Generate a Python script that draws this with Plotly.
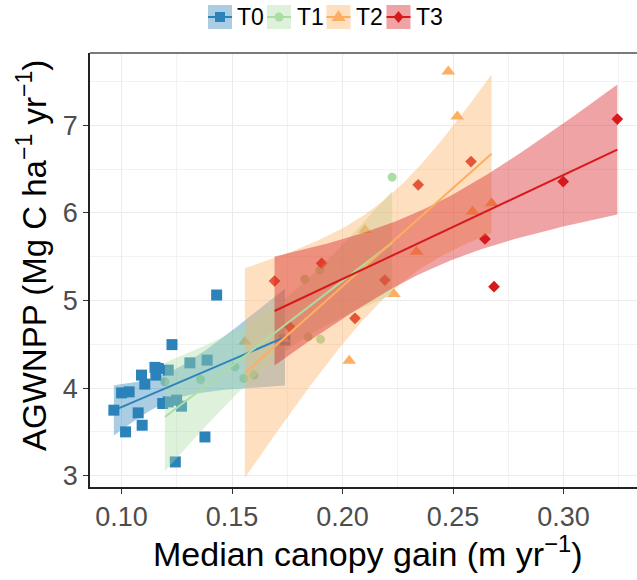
import numpy as np
import plotly.graph_objects as go

# ---------------- data ----------------
groups = ["T0", "T1", "T2", "T3"]

t0_x = [0.1430, 0.1228, 0.1151, 0.1166, 0.1155, 0.1090, 0.1105, 0.1000, 0.1034,
        0.0965, 0.1075, 0.1186, 0.1093, 0.1018, 0.1377, 0.1243, 0.1211, 0.1309,
        0.1387, 0.1211, 0.1249, 0.1271, 0.1739]
t0_y = [5.063, 4.497, 4.237, 4.225, 4.149, 4.149, 4.046, 3.946, 3.958,
        3.749, 3.718, 3.825, 3.577, 3.501, 3.443, 3.158, 4.206, 4.289,
        4.320, 3.843, 3.863, 3.794, 4.549]

t1_x = [0.1196, 0.1357, 0.1513, 0.1553, 0.1599, 0.1844, 0.1900, 0.1829, 0.1897,
        0.2056, 0.2224]
t1_y = [4.072, 4.099, 4.243, 4.111, 4.149, 4.586, 4.557, 5.242, 5.349,
        4.797, 6.408]

t2_x = [0.2478, 0.2519, 0.2674, 0.2588, 0.2335, 0.2232, 0.2101, 0.2030, 0.1558,
        0.1731]
t2_y = [7.615, 7.101, 6.111, 6.015, 5.558, 5.074, 5.806, 4.312, 4.529,
        4.560]

t3_x = [0.3243, 0.2998, 0.2581, 0.2342, 0.2644, 0.2685, 0.2191, 0.1692, 0.1905,
        0.2056, 0.1759]
t3_y = [7.071, 6.358, 6.586, 6.320, 5.703, 5.158, 5.234, 5.223, 5.425,
        4.797, 4.705]

x_ticks = [0.10, 0.15, 0.20, 0.25, 0.30]
x_ticktext = ["0.10", "0.15", "0.20", "0.25", "0.30"]
y_ticks = [3, 4, 5, 6, 7]
y_ticktext = ["3", "4", "5", "6", "7"]

series = {"T0": (t0_x, t0_y), "T1": (t1_x, t1_y), "T2": (t2_x, t2_y), "T3": (t3_x, t3_y)}

# ---------------- style ----------------
colors = {"T0": "#2b83ba", "T1": "#abdda4", "T2": "#fdae61", "T3": "#d7191c"}
fills = {"T0": "rgba(43,131,186,0.4)", "T1": "rgba(171,221,164,0.4)",
         "T2": "rgba(253,174,97,0.4)", "T3": "rgba(215,25,28,0.4)"}
symbols = {"T0": "square", "T1": "circle", "T2": "triangle-up", "T3": "diamond"}
msizes = {"T0": 11, "T1": 9, "T2": 12, "T3": 9}
FONT = "Liberation Sans, Arial, sans-serif"

W, H = 637, 580
L, R, T, B = 90, 0, 53, 93
PW, PH = W - L - R, H - T - B


def px2paper(px, py):
    return (px - L) / PW, (H - B - py) / PH


def t975(df):
    z = 1.959964
    return (z + (z**3 + z) / (4 * df)
            + (5 * z**5 + 16 * z**3 + 3 * z) / (96 * df**2)
            + (3 * z**7 + 19 * z**5 + 17 * z**3 - 15 * z) / (384 * df**3))


def lm_band(x, y, npts=80):
    x = np.asarray(x, float)
    y = np.asarray(y, float)
    n = len(x)
    b1, b0 = np.polyfit(x, y, 1)
    xs = np.linspace(x.min(), x.max(), npts)
    fit = b0 + b1 * xs
    resid = y - (b0 + b1 * x)
    s = np.sqrt(np.sum(resid**2) / (n - 2))
    xm = x.mean()
    sxx = np.sum((x - xm) ** 2)
    se = s * np.sqrt(1.0 / n + (xs - xm) ** 2 / sxx)
    t = t975(n - 2)
    return xs, fit, fit - t * se, fit + t * se


fig = go.Figure()

# points first (they sit under the ribbons)
for g in groups:
    x, y = series[g]
    fig.add_trace(go.Scatter(x=x, y=y, mode="markers", name=g, showlegend=False,
                             marker=dict(symbol=symbols[g], size=msizes[g], color=colors[g],
                                         line=dict(width=0))))

bands = {g: lm_band(*series[g]) for g in groups}

# ribbons
for g in groups:
    xs, fit, lo, hi = bands[g]
    fig.add_trace(go.Scatter(x=np.concatenate([xs, xs[::-1]]),
                             y=np.concatenate([hi, lo[::-1]]),
                             mode="lines", fill="toself", fillcolor=fills[g],
                             line=dict(width=0), hoverinfo="skip", showlegend=False))

# fitted lines
for g in groups:
    xs, fit, lo, hi = bands[g]
    fig.add_trace(go.Scatter(x=xs, y=fit, mode="lines", line=dict(color=colors[g], width=2),
                             showlegend=False, hoverinfo="skip"))

# ---------------- manual legend (ggplot style keys) ----------------
shapes = []
annotations = []
key_cx = [220, 279, 338.5, 398.5]
key_cy = 17
text_x = [235, 295, 354, 414]
tri = "M-7,-4 L7,-4 L0,7 Z"
dia = "M0,6 L5,0 L0,-6 L-5,0 Z"
for i, g in enumerate(groups):
    ax, ay = px2paper(key_cx[i], key_cy)
    base = dict(xref="paper", yref="paper", xsizemode="pixel", ysizemode="pixel",
                xanchor=ax, yanchor=ay, layer="above")
    shapes.append(dict(type="rect", x0=-12, x1=12, y0=-12, y1=12,
                       fillcolor=fills[g], line=dict(width=0), **base))
    shapes.append(dict(type="line", x0=-12, x1=12, y0=0, y1=0,
                       line=dict(color=colors[g], width=2), **base))
    if symbols[g] == "square":
        shapes.append(dict(type="rect", x0=-5, x1=5, y0=-5, y1=5,
                           fillcolor=colors[g], line=dict(width=0), **base))
    elif symbols[g] == "circle":
        shapes.append(dict(type="circle", x0=-4.5, x1=4.5, y0=-4.5, y1=4.5,
                           fillcolor=colors[g], line=dict(width=0), **base))
    elif symbols[g] == "triangle-up":
        shapes.append(dict(type="path", path=tri, fillcolor=colors[g],
                           line=dict(width=0), **base))
    else:
        shapes.append(dict(type="path", path=dia, fillcolor=colors[g],
                           line=dict(width=0), **base))
    tx, ty = px2paper(text_x[i], key_cy)
    annotations.append(dict(text=g, xref="paper", yref="paper", x=tx, y=ty,
                            xanchor="left", yanchor="middle", showarrow=False,
                            font=dict(family=FONT, size=23, color="#000000")))

# grey panel border along the top (theme_bw style)
shapes.append(dict(type="line", xref="paper", yref="paper", x0=0, x1=1, y0=1, y1=1,
                   line=dict(color="#7a7a7a", width=2), layer="above"))

# axis titles
xt, yt = px2paper(368, 551)
annotations.append(dict(text="Median canopy gain (m yr<sup>\u22121</sup>)", xref="paper", yref="paper",
                        x=xt, y=yt, xanchor="center", yanchor="middle", showarrow=False,
                        font=dict(family=FONT, size=34, color="#000000")))
xt, yt = px2paper(32, 256)
annotations.append(dict(text="AGWNPP (Mg C ha<sup>\u22121</sup> yr<sup>\u22121</sup>)", xref="paper", yref="paper",
                        x=xt, y=yt, xanchor="center", yanchor="middle", textangle=-90,
                        showarrow=False, font=dict(family=FONT, size=33, color="#000000")))

fig.update_layout(
    width=W, height=H, margin=dict(l=L, r=R, t=T, b=B, pad=0),
    plot_bgcolor="white", paper_bgcolor="white",
    font=dict(family=FONT),
    showlegend=False,
    shapes=shapes, annotations=annotations,
)
fig.update_xaxes(range=[0.0857, 0.3332], tickmode="array", tickvals=x_ticks, ticktext=x_ticktext,
                 showgrid=True, gridcolor="#ebebeb", gridwidth=1.2, zeroline=False,
                 minor=dict(tick0=0.1, dtick=0.025, showgrid=True, gridcolor="#f2f2f2", gridwidth=0.8),
                 ticks="outside", ticklen=5, tickwidth=1, tickcolor="#333333",
                 tickfont=dict(family=FONT, size=27, color="#4d4d4d"),
                 showline=True, linecolor="#222222", linewidth=1.5, mirror=False)
fig.update_yaxes(range=[2.872, 7.825], tickmode="array", tickvals=y_ticks, ticktext=y_ticktext,
                 showgrid=True, gridcolor="#ebebeb", gridwidth=1.2, zeroline=False,
                 minor=dict(tick0=3, dtick=0.5, showgrid=True, gridcolor="#f2f2f2", gridwidth=0.8),
                 ticks="outside", ticklen=5, tickwidth=1, tickcolor="#333333",
                 tickfont=dict(family=FONT, size=27, color="#4d4d4d"),
                 showline=True, linecolor="#222222", linewidth=1.5, mirror=False)

fig.write_html("out.html")
